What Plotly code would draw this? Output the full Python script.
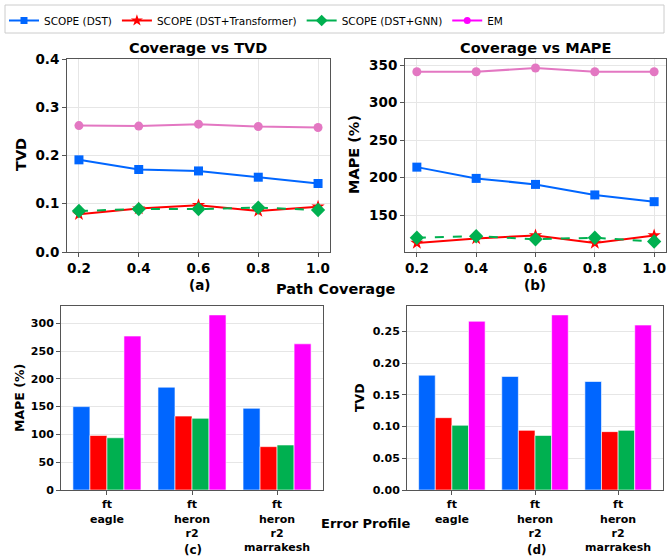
import plotly.graph_objects as go

W, H = 669, 556

coverage = [0.2, 0.4, 0.6, 0.8, 1.0]
series_names = ["SCOPE (DST)", "SCOPE (DST+Transformer)", "SCOPE (DST+GNN)", "EM"]

tvd_dst = [0.191, 0.171, 0.168, 0.155, 0.142]
tvd_trans = [0.078, 0.090, 0.097, 0.085, 0.094]
tvd_gnn = [0.085, 0.089, 0.089, 0.092, 0.087]
tvd_em = [0.262, 0.261, 0.265, 0.260, 0.258]

mape_dst = [214, 199, 191, 177, 168]
mape_trans = [113, 119, 123, 113, 123]
mape_gnn = [120, 122, 118, 120, 115]
mape_em = [341, 341, 346, 341, 341]

profiles = ["ft<br>eagle", "ft<br>heron<br>r2", "ft<br>heron<br>r2<br>marrakesh"]
bar_mape_dst = [150, 185, 147]
bar_mape_trans = [98, 133, 78]
bar_mape_gnn = [94, 129, 81]
bar_mape_em = [277, 315, 263]

bar_tvd_dst = [0.181, 0.179, 0.171]
bar_tvd_trans = [0.114, 0.094, 0.092]
bar_tvd_gnn = [0.102, 0.086, 0.094]
bar_tvd_em = [0.266, 0.276, 0.260]

BLUE = "#0066ff"
RED = "#ff0000"
GREEN = "#00b050"
MAGENTA = "#ff00ff"
PINK = "#e377c2"
FONT = "DejaVu Sans"


def px(x):
    return x / W


def py(y):
    return 1 - y / H


fig = go.Figure()

line_styles = [
    (BLUE, "square", 9, "solid"),
    (RED, "star", 10, "solid"),
    (GREEN, "diamond", 11, "dash"),
    (PINK, "circle", 9, "solid"),
]

for (xa, ya), data in [
    (("x", "y"), [tvd_dst, tvd_trans, tvd_gnn, tvd_em]),
    (("x2", "y2"), [mape_dst, mape_trans, mape_gnn, mape_em]),
]:
    for name, vals, (c, sym, sz, dash) in zip(series_names, data, line_styles):
        fig.add_trace(go.Scatter(
            x=coverage, y=vals, mode="lines+markers", name=name,
            line=dict(color=c, width=2, dash=dash),
            marker=dict(symbol=sym, size=sz, color=c),
            xaxis=xa, yaxis=ya, showlegend=False,
        ))

bar_colors = [BLUE, RED, GREEN, MAGENTA]
for (xa, ya), data in [
    (("x3", "y3"), [bar_mape_dst, bar_mape_trans, bar_mape_gnn, bar_mape_em]),
    (("x4", "y4"), [bar_tvd_dst, bar_tvd_trans, bar_tvd_gnn, bar_tvd_em]),
]:
    for name, vals, c in zip(series_names, data, bar_colors):
        fig.add_trace(go.Bar(
            x=profiles, y=vals, name=name,
            marker=dict(color=c, line=dict(color="rgba(255,255,255,0.6)", width=1)),
            xaxis=xa, yaxis=ya, showlegend=False,
        ))

# legend entries
leg_styles = [(BLUE, "square", 7), (RED, "star", 9), (GREEN, "diamond", 9), (MAGENTA, "circle", 7)]
for name, (c, sym, sz) in zip(series_names, leg_styles):
    fig.add_trace(go.Scatter(
        x=[None], y=[None], mode="lines+markers", name=name,
        line=dict(color=c, width=2), marker=dict(symbol=sym, size=sz, color=c),
        xaxis="x", yaxis="y", showlegend=True,
    ))

axis_common = dict(
    showline=True, linecolor="#555555", linewidth=1, mirror=True,
    ticks="outside", ticklen=4, tickcolor="#555555",
    gridcolor="#e6e6e6", gridwidth=1, zeroline=False, automargin=False,
)
axis_nogrid = {k: v for k, v in axis_common.items() if k not in ("gridcolor", "gridwidth")}

top_y = [py(252), py(59)]
bot_y = [py(490), py(306)]
tick_top = dict(family=FONT, size=13.5, color="black", weight="bold")
tick_bot = dict(family=FONT, size=11, color="black", weight="bold")

fig.update_layout(
    width=W, height=H,
    margin=dict(l=0, r=0, t=0, b=0, autoexpand=False),
    paper_bgcolor="white", plot_bgcolor="white",
    barmode="group", bargap=0.2, bargroupgap=0,
    font=dict(family=FONT, color="black"),
    xaxis=dict(domain=[px(67), px(330)], anchor="y", range=[0.16, 1.04],
               tickvals=coverage, tickformat=".1f", tickfont=tick_top, **axis_common),
    yaxis=dict(domain=top_y, anchor="x", range=[0, 0.4], dtick=0.1, tickformat=".1f",
               tickfont=tick_top, **axis_common),
    xaxis2=dict(domain=[px(405), px(666)], anchor="y2", range=[0.16, 1.04],
                tickvals=coverage, tickformat=".1f", tickfont=tick_top, **axis_common),
    yaxis2=dict(domain=top_y, anchor="x2", range=[101, 358], tickvals=[150, 200, 250, 300, 350],
                tickfont=tick_top, **axis_common),
    xaxis3=dict(domain=[px(61), px(323)], anchor="y3", range=[-0.54, 2.54],
                tickfont=tick_bot, showgrid=False, **axis_nogrid),
    yaxis3=dict(domain=bot_y, anchor="x3", range=[0, 331], dtick=50, tickfont=tick_bot, **axis_common),
    xaxis4=dict(domain=[px(407), px(663)], anchor="y4", range=[-0.54, 2.54],
                tickfont=tick_bot, showgrid=False, **axis_nogrid),
    yaxis4=dict(domain=bot_y, anchor="x4", range=[0, 0.29], dtick=0.05, tickformat=".2f",
                tickfont=tick_bot, **axis_common),
    legend=dict(orientation="h", x=px(4), xanchor="left", y=py(6), yanchor="top",
                font=dict(family=FONT, size=10.5, color="black"),
                bgcolor="rgba(0,0,0,0)", borderwidth=0, itemwidth=30,
                tracegroupgap=0),
    showlegend=True,
)

# legend frame
fig.add_shape(type="rect", xref="paper", yref="paper", x0=px(5), x1=px(664), y0=py(33), y1=py(5),
              line=dict(color="#cccccc", width=1), fillcolor="rgba(0,0,0,0)", layer="below")


def ann(text, x, y, size, angle=0, bold=True):
    fig.add_annotation(text=text, x=px(x), y=py(y), xref="paper", yref="paper",
                       showarrow=False, textangle=angle, xanchor="center", yanchor="middle",
                       font=dict(family=FONT, size=size, color="black",
                                 weight="bold" if bold else "normal"))


ann("Coverage vs TVD", 198, 48, 14.5)
ann("Coverage vs MAPE", 535, 48, 14.5)
ann("TVD", 21, 155, 14.5, -90)
ann("MAPE (%)", 354, 155, 14.5, -90)
ann("(a)", 199, 285, 13.5)
ann("(b)", 535, 285, 13.5)
ann("Path Coverage", 336, 289, 14.5)
ann("MAPE (%)", 19, 398, 12.5, -90)
ann("TVD", 359, 398, 12.5, -90)
ann("Error Profile", 366, 523, 13)
ann("(c)", 193, 550, 12)
ann("(d)", 537, 550, 12)

fig.write_html("out.html", config={"displayModeBar": False},
               post_script="document.body.style.margin='0px';document.body.style.overflow='hidden';")
